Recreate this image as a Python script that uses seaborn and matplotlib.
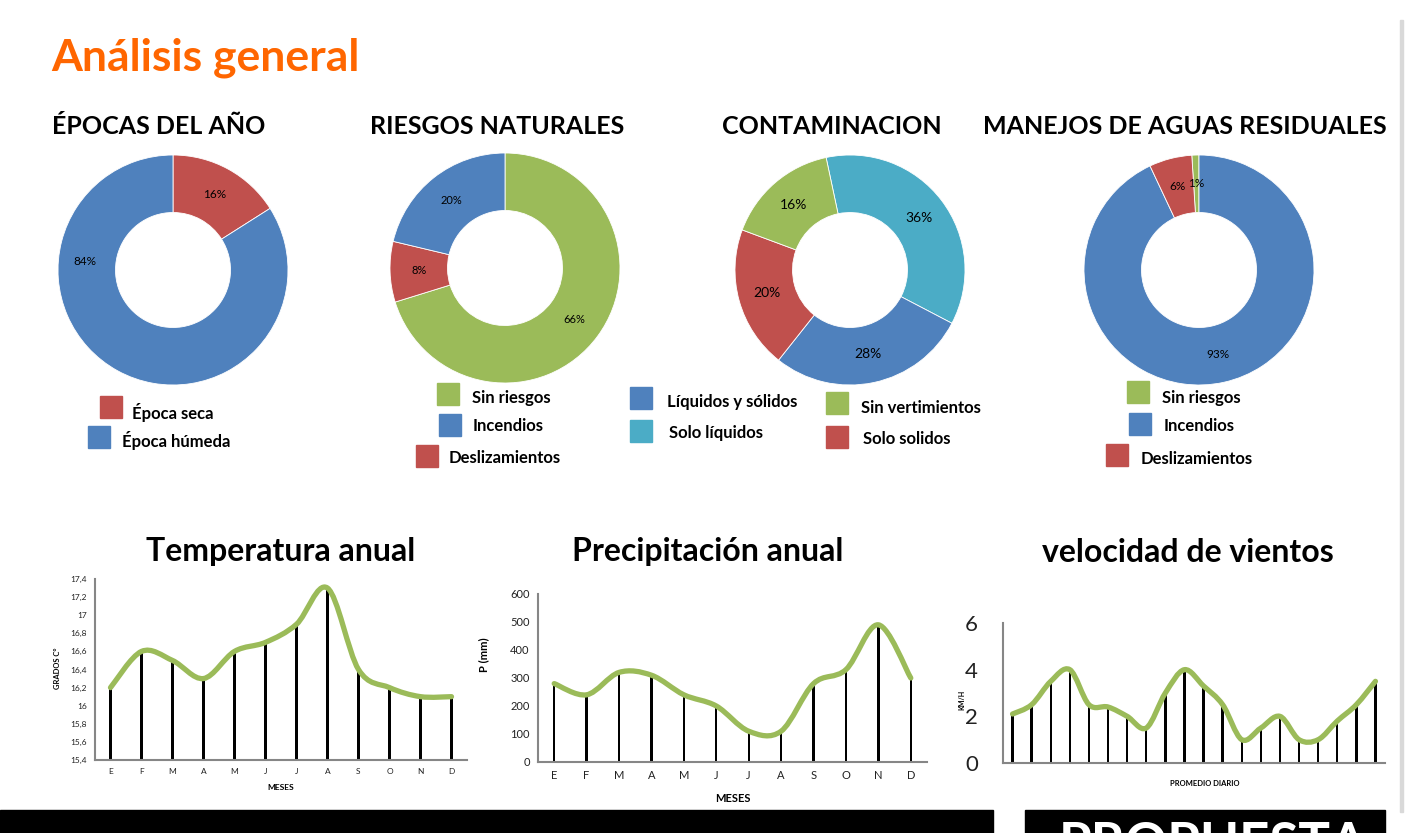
import numpy as np
import pandas as pd
import matplotlib
matplotlib.use('Agg')
import matplotlib.pyplot as plt
from matplotlib.path import Path
from matplotlib.patches import PathPatch, Rectangle
import seaborn as sns

# Figure size in pixels
W, H = 1405, 833

# Excel 2007 palette
BLUE = '#4F81BD'
RED = '#C0504D'
GREEN = '#9BBB59'
CYAN = '#4BACC6'
ORANGE = '#FF6600'
SPINE = '#868686'

# Donut data
EPOCAS_LABELS = ['Época seca', 'Época húmeda']
EPOCAS_VALUES = [16, 84]
EPOCAS_COLORS = [RED, BLUE]

RIESGOS_LABELS = ['Sin riesgos', 'Deslizamientos', 'Incendios']
RIESGOS_VALUES = [66, 8, 20]
RIESGOS_COLORS = [GREEN, RED, BLUE]

CONTAM_LABELS = ['Solo líquidos', 'Líquidos y sólidos', 'Solo solidos', 'Sin vertimientos']
CONTAM_VALUES = [36, 28, 20, 16]
CONTAM_COLORS = [CYAN, BLUE, RED, GREEN]

AGUAS_LABELS = ['Sin riesgos', 'Incendios', 'Deslizamientos']
AGUAS_VALUES = [1, 93, 6]
AGUAS_COLORS = [GREEN, BLUE, RED]

# Line chart data
MESES = ['E', 'F', 'M', 'A', 'M', 'J', 'J', 'A', 'S', 'O', 'N', 'D']
TEMPERATURA = [16.2, 16.6, 16.5, 16.3, 16.6, 16.7, 16.9, 17.3, 16.4, 16.2, 16.1, 16.1]
TEMP_TICKS = [15.4, 15.6, 15.8, 16.0, 16.2, 16.4, 16.6, 16.8, 17.0, 17.2, 17.4]
PRECIPITACION = [280, 240, 320, 310, 240, 200, 110, 110, 280, 330, 490, 300]
PREC_TICKS = [0, 100, 200, 300, 400, 500, 600]
VIENTO = [2.1, 2.5, 3.5, 4.0, 2.5, 2.4, 2.0, 1.5, 3.0, 4.0, 3.3, 2.5,
          1.0, 1.5, 2.0, 1.0, 1.0, 1.8, 2.5, 3.5]
VIENTO_TICKS = [0, 2, 4, 6]

sns.set_theme(style='white')
plt.rcParams['font.family'] = ['Lato', 'DejaVu Sans']

fig = plt.figure(figsize=(W / 100, H / 100), dpi=100)
fig.patch.set_facecolor('white')


def fx(x):
    return x / W


def fy(y):
    return 1 - y / H


def px_axes(x0, y0, x1, y1):
    return fig.add_axes([fx(x0), fy(y1), (x1 - x0) / W, (y1 - y0) / H])


def smooth_path(xs, ys):
    # Bezier path through the points, like Excel's smoothed line
    pts = np.column_stack([xs, ys]).astype(float)
    n = len(pts)
    verts = [pts[0]]
    codes = [Path.MOVETO]
    for i in range(n - 1):
        p0 = pts[max(i - 1, 0)]
        p1 = pts[i]
        p2 = pts[i + 1]
        p3 = pts[min(i + 2, n - 1)]
        verts += [p1 + (p2 - p0) / 6, p2 - (p3 - p1) / 6, p2]
        codes += [Path.CURVE4] * 3
    return Path(verts, codes)


# Main title
fig.text(fx(51), fy(58), 'Análisis general', color=ORANGE, fontsize=32,
         fontweight='bold', ha='left', va='center')


def donut(cx, cy, title, title_x, values, colors, start, pct_size, labels, legend_pos,
          label_moves=None):
    r = 115
    ax = px_axes(cx - r, cy - r, cx + r, cy + r)
    wedges, texts, autotexts = ax.pie(
        values, colors=colors, startangle=start, counterclock=False, radius=1,
        wedgeprops=dict(width=0.5, edgecolor='white', linewidth=0.6),
        autopct='%d', pctdistance=0.75,
        textprops=dict(fontsize=pct_size, color='black'))
    for t, v in zip(autotexts, values):
        t.set_text(f'{v}%')
    if label_moves:
        for i, pos in label_moves.items():
            autotexts[i].set_position(pos)
    ax.set_xlim(-1, 1)
    ax.set_ylim(-1, 1)
    fig.text(fx(title_x), fy(126), title, fontsize=18, fontweight='bold',
             ha='center', va='center', color='black')
    # legend squares and labels
    for lab, col, (sx, sy, tx, ty) in zip(labels, colors, legend_pos):
        fig.patches.append(Rectangle((fx(sx), fy(sy + 22)), 22 / W, 22 / H,
                                     transform=fig.transFigure, color=col))
        fig.text(fx(tx), fy(ty), lab, fontsize=12, fontweight='bold',
                 ha='left', va='center', color='black')


donut(173, 270, 'ÉPOCAS DEL AÑO', 159, EPOCAS_VALUES, EPOCAS_COLORS, 90, 8.5,
      EPOCAS_LABELS, [(100, 396, 132, 412), (88, 426, 122, 441)],
      label_moves={1: (-0.77, 0.07)})
donut(505, 268, 'RIESGOS NATURALES', 497, RIESGOS_VALUES, RIESGOS_COLORS, 90, 8,
      RIESGOS_LABELS, [(437, 383, 472, 398), (416, 445, 449, 458), (439, 414, 473, 426)])
donut(850, 270, 'CONTAMINACION', 832, CONTAM_VALUES, CONTAM_COLORS, 102, 10,
      CONTAM_LABELS, [(630, 420, 669, 433), (630, 387, 667, 402),
                      (826, 426, 863, 439), (826, 392, 861, 408)])
donut(1199, 270, 'MANEJOS DE AGUAS RESIDUALES', 1185, AGUAS_VALUES, AGUAS_COLORS, 93.6, 8.5,
      AGUAS_LABELS, [(1127, 381, 1162, 398), (1129, 413, 1164, 426), (1106, 444, 1141, 459)])


def stem_chart(box, values, ylim, ticks, tick_fmt, tick_size, xlabels, xtick_size, title,
               title_x, xlabel, xlabel_pos, xlabel_size, ylabel, ylabel_pos, ylabel_size):
    x0, y0, x1, y1 = box
    ax = px_axes(x0, y0, x1, y1)
    n = len(values)
    df = pd.DataFrame({'pos': np.arange(n), 'valor': values})
    spacing = (x1 - x0) / n
    sns.barplot(data=df, x='pos', y='valor', color='black', width=2.4 / spacing,
                saturation=1, linewidth=0, ax=ax, zorder=2)
    ax.add_patch(PathPatch(smooth_path(df['pos'], df['valor']), fill=False,
                           edgecolor=GREEN, linewidth=3.8, capstyle='round',
                           joinstyle='round', zorder=3))
    ax.set_xlim(-0.5, n - 0.5)
    ax.set_ylim(*ylim)
    ax.set_yticks(ticks)
    ax.set_yticklabels([tick_fmt(t) for t in ticks], fontsize=tick_size, color='#222222')
    ax.set_xticks(range(n))
    ax.set_xticklabels(xlabels, fontsize=xtick_size, color='#222222')
    ax.tick_params(axis='both', length=0, pad=6)
    ax.set_xlabel('')
    ax.set_ylabel('')
    for s in ['top', 'right']:
        ax.spines[s].set_visible(False)
    for s in ['left', 'bottom']:
        ax.spines[s].set_color(SPINE)
        ax.spines[s].set_linewidth(1.5)
    ax.set_facecolor('none')
    fig.text(fx(title_x), fy(552), title, fontsize=23, fontweight='bold',
             ha='center', va='center', color='black')
    fig.text(fx(xlabel_pos[0]), fy(xlabel_pos[1]), xlabel, fontsize=xlabel_size,
             fontweight='bold', ha='center', va='center', color='black')
    fig.text(fx(ylabel_pos[0]), fy(ylabel_pos[1]), ylabel, fontsize=ylabel_size,
             fontweight='bold', ha='center', va='center', rotation=90, color='black')
    return ax


stem_chart((95, 579, 467, 760), TEMPERATURA, (15.4, 17.4), TEMP_TICKS,
           lambda t: f'{t:g}'.replace('.', ','), 6, MESES, 6,
           'Temperatura anual', 281, 'MESES', (281, 787), 6, 'GRADOS C°', (58, 668), 5.5)
stem_chart((538, 594, 927, 762), PRECIPITACION, (0, 600), PREC_TICKS,
           lambda t: f'{t:d}', 8, MESES, 8,
           'Precipitación anual', 708, 'MESES', (733, 798), 8, 'P (mm)', (484, 655), 8)
ax_v = stem_chart((1003, 623, 1385, 763), VIENTO, (0, 6), VIENTO_TICKS,
                  lambda t: f'{t:d}', 16, [''] * len(VIENTO), 6,
                  'velocidad de vientos', 1188, 'PROMEDIO DIARIO', (1205, 783), 5.5,
                  'KM/H', (962, 700), 5)
ax_v.tick_params(axis='y', pad=18)

# Frame decoration: right border and bottom black bars
fig.patches.append(Rectangle((fx(1400), fy(812)), 3 / W, (812 - 20) / H,
                             transform=fig.transFigure, color='#D9D9D9'))
fig.patches.append(Rectangle((0, 0), fx(993), (H - 810) / H,
                             transform=fig.transFigure, color='black'))
fig.patches.append(Rectangle((fx(1025), 0), fx(1385) - fx(1025), (H - 810) / H,
                             transform=fig.transFigure, color='black'))
fig.text(fx(1213), fy(821), 'PROPUESTA', color='white', fontsize=38, fontweight='bold',
         ha='center', va='top')

fig.savefig('out.png', dpi=100, facecolor='white')
